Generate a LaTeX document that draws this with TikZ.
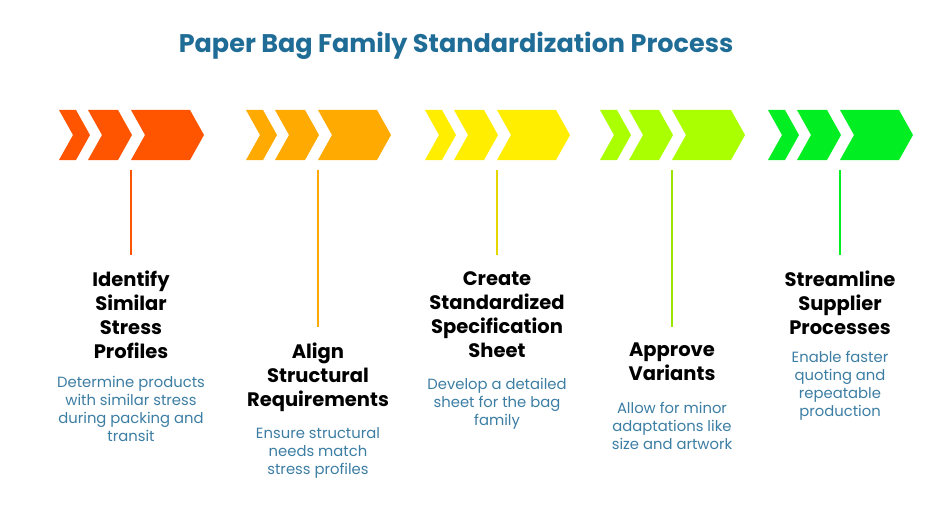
\documentclass[tikz,border=0pt]{standalone}
\usepackage{fontspec}
\setmainfont{Poppins}
\begin{document}
\begin{tikzpicture}[x=1pt,y=-1pt,
 head/.style={align=center,font=\fontsize{19.5}{24}\selectfont\bfseries,text=black,anchor=north,inner sep=0},
 body/.style={align=center,font=\fontsize{14.8}{18}\selectfont,text=bodyc,anchor=north,inner sep=0},
 stem/.style={line width=1.3pt}]
\definecolor{titlec}{HTML}{1F6D96}
\definecolor{bodyc}{HTML}{3C7DA3}
\definecolor{c1}{HTML}{FF5500}
\definecolor{c2}{HTML}{FFAA00}
\definecolor{c3}{HTML}{FFEE00}
\definecolor{c4}{HTML}{AAFF00}
\definecolor{c5}{HTML}{00EE22}
\useasboundingbox (0,0) rectangle (936,516);
\newcommand\chv[3]{\fill[#3] (#1,110) -- ++(#2,0) -- ++(14,25) -- ++(-14,25) -- (#1,160) -- ++(14,-25) -- cycle;}
\newcommand\grp[2]{\chv{#1-72}{17}{#2}\chv{#1-43}{30}{#2}\chv{#1}{59}{#2}}
\node[font=\fontsize{25.5}{30}\selectfont\bfseries,text=titlec] (title) at (456,46) {Paper Bag Family Standardization Process};
\grp{131}{c1}\grp{318}{c2}\grp{497}{c3}\grp{672}{c4}\grp{840}{c5}
\coordinate (t1) at (131,170);\coordinate (b1) at (131,255);
\coordinate (t2) at (318,170);\coordinate (b2) at (318,327);
\coordinate (t3) at (497,170);\coordinate (b3) at (497,255);
\coordinate (t4) at (672,170);\coordinate (b4) at (672,327);
\coordinate (t5) at (840,170);\coordinate (b5) at (840,255);
\draw[stem,c1] (t1)--(b1);\draw[stem,c2] (t2)--(b2);\draw[stem,c3!90!black] (t3)--(b3);
\draw[stem,c4!90!black] (t4)--(b4);\draw[stem,c5] (t5)--(b5);
\node[head] (h1) at (131,271) {Identify\\Similar\\Stress\\Profiles};
\node[body] (d1) at (131,376) {Determine products\\with similar stress\\during packing and\\transit};
\node[head] (h2) at (318,343) {Align\\Structural\\Requirements};
\node[body] (d2) at (318,427) {Ensure structural\\needs match\\stress profiles};
\node[head] (h3) at (497,271) {Create\\Standardized\\Specification\\Sheet};
\node[body] (d3) at (497,378) {Develop a detailed\\sheet for the bag\\family};
\node[head] (h4) at (672,343) {Approve\\Variants};
\node[body] (d4) at (672,402) {Allow for minor\\adaptations like\\size and artwork};
\node[head] (h5) at (840,271) {Streamline\\Supplier\\Processes};
\node[body] (d5) at (840,351) {Enable faster\\quoting and\\repeatable\\production};
\end{tikzpicture}
\end{document}
